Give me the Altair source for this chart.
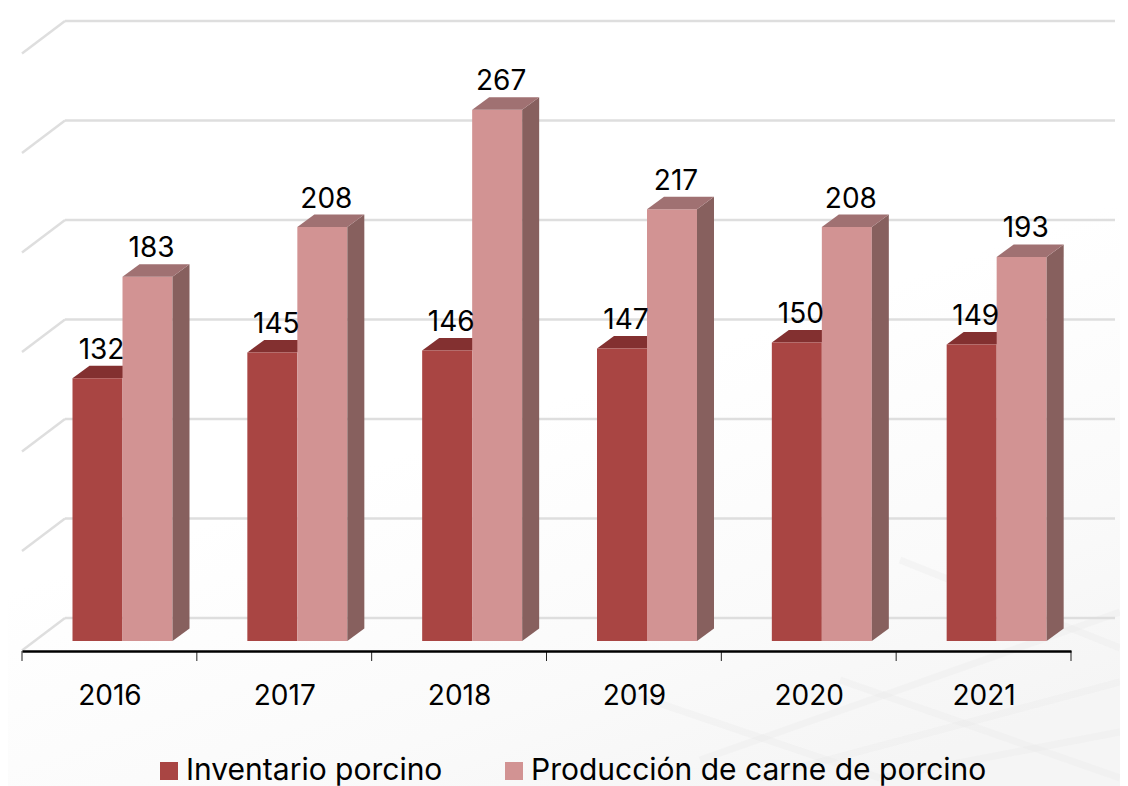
import altair as alt
import pandas as pd

years = [2016, 2017, 2018, 2019, 2020, 2021]
inventario = [132, 145, 146, 147, 150, 149]
produccion = [183, 208, 267, 217, 208, 193]
grid_values = [0, 50, 100, 150, 200, 250, 300]
SERIES = ["Inventario porcino", "Producción de carne de porcino"]
FRONT = ["#A94543", "#D29393"]
SIDE = ["#7F3A38", "#87605E"]
TOP = ["#833030", "#A07172"]
FONT = "Inter"

PX_X = 1049 / 6          # pixels per category
PX_Y = 1.99              # pixels per value unit
BW = 50 / PX_X           # bar width (category units)
L0 = 50.5 / PX_X         # first bar's offset inside the category
DX = 17 / PX_X           # oblique depth of a bar
DY = 12.5 / PX_Y
GX = 43 / PX_X           # oblique depth of the grid walls
GY = 32.5 / PX_Y
BACK0 = 23 / PX_Y        # value position of the back-wall zero line
Y_MIN = -10 / PX_Y
Y_MAX = 633 / PX_Y

bars, sides, tops = [], [], []
for s, vals in enumerate([inventario, produccion]):
    for i, v in enumerate(vals):
        l = i + L0 + s * BW
        r = l + BW
        key = f"{s}-{i}"
        bars.append(dict(series=SERIES[s], l=l, r=r, v=v, zero=0, s=s, year=years[i], cx=(l + r) / 2))
        sides += [dict(key=key, s=s, x=r, y=v, y2=0), dict(key=key, s=s, x=r + DX, y=v + DY, y2=DY)]
        tops += [dict(key=key, s=s, x=l, y=v, y2=v), dict(key=key, s=s, x=l + DX, y=v + DY, y2=v),
                 dict(key=key, s=s, x=r, y=v + DY, y2=v), dict(key=key, s=s, x=r + DX, y=v + DY, y2=v + DY)]
bars = pd.DataFrame(bars)
sides = pd.DataFrame(sides)
tops = pd.DataFrame(tops)

xs = alt.Scale(domain=[0, 6], nice=False, zero=False)
ys = alt.Scale(domain=[Y_MIN, Y_MAX], nice=False, zero=False)
x_axis = alt.Axis(
    values=[0.5, 1.5, 2.5, 3.5, 4.5, 5.5],
    labelExpr="'' + (2016 + floor(datum.value))",
    title=None, grid=False, ticks=False, domainColor="#000000", domainWidth=2.5, zindex=1,
    labelFont=FONT, labelFontSize=28, labelColor="#000000", labelPadding=31, labelAngle=0,
)
X = lambda f: alt.X(f, type="quantitative", scale=xs, axis=x_axis)
Y = lambda f: alt.Y(f, type="quantitative", scale=ys, axis=None, stack=None)

# faint page wash of the reference's background picture
def px(x): return (x - 22) / PX_X
def py(y): return (641 - y) / PX_Y

wash = alt.Chart(pd.DataFrame([dict(x=px(8), x2=px(1120), y=py(8), y2=py(786))])).mark_rect(
    color=alt.LinearGradient(gradient="linear", x1=0.25, y1=0, x2=0.75, y2=1, stops=[
        alt.GradientStop(offset=0, color="#FFFFFF"),
        alt.GradientStop(offset=0.5, color="#FFFFFF"),
        alt.GradientStop(offset=0.8, color="#FAFAFA"),
        alt.GradientStop(offset=1, color="#F5F5F5")])
).encode(x=X("x"), x2="x2", y=Y("y"), y2="y2")

texture_seg = [(700, 760, 1120, 612), (760, 778, 1120, 682), (880, 778, 1120, 732),
               (840, 680, 1120, 778), (900, 560, 1120, 648), (620, 690, 880, 778)]
texture = alt.Chart(pd.DataFrame([dict(x=px(a), x2=px(c), y=py(b), y2=py(d)) for a, b, c, d in texture_seg])
                    ).mark_rule(color="#E8E8E8", strokeWidth=7, opacity=0.3).encode(
    x=X("x"), x2="x2", y=Y("y"), y2="y2")

back = pd.DataFrame([dict(x=GX, x2=1093 / PX_X, y=BACK0 + g, y2=BACK0 + g) for g in grid_values])
diag = pd.DataFrame([dict(x=0, x2=GX, y=BACK0 + g - GY, y2=BACK0 + g) for g in grid_values])
grid = alt.Chart(pd.concat([back, diag])).mark_rule(color="#DEDEDE", strokeWidth=2.4).encode(
    x=X("x"), x2="x2", y=Y("y"), y2="y2")

ticks = alt.Chart(pd.DataFrame(dict(x=list(range(7))))).transform_calculate(
    a=str(Y_MIN), b=str(Y_MIN - 10 / PX_Y)
).mark_rule(color="#222222", strokeWidth=1).encode(x=X("x"), y=Y("a:Q"), y2="b:Q")

def face(df, s, colors):
    return alt.Chart(df[df.s == s]).mark_area(color=colors[s], interpolate="linear", opacity=1).encode(
        x=X("x"), y=Y("y"), y2="y2", detail="key:N")

bar = alt.Chart(bars).mark_bar().encode(
    x=X("l"),
    x2="r",
    y=Y("v"),
    y2="zero",
    color=alt.Color("series:N", scale=alt.Scale(domain=SERIES, range=FRONT), legend=alt.Legend(
        title=None, orient="none", legendX=132, legendY=748, direction="horizontal", columns=2,
        symbolType="square", symbolSize=324, symbolStrokeWidth=0, symbolOpacity=1,
        labelFont=FONT, labelFontSize=30, labelColor="#000000", labelLimit=600,
        labelOffset=2, columnPadding=56,
    )),
)

labels = alt.Chart(bars).mark_text(font=FONT, fontSize=28, color="#000000", baseline="alphabetic",
                                   align="center", dx=4, dy=-19.5).encode(
    x=X("cx"), y=Y("v"), text="v:Q")

chart = alt.layer(
    wash, texture, grid, ticks, face(tops, 0, TOP), bar, face(sides, 1, SIDE), face(tops, 1, TOP), labels
).properties(
    width=1049, height=643,
    autosize=alt.AutoSizeParams(type="none"),
    padding=dict(left=14, top=0, right=49, bottom=135),
    background="#FFFFFF",
).configure_view(stroke=None)

chart.save("out.html", embed_options={"renderer": "svg", "actions": False})
